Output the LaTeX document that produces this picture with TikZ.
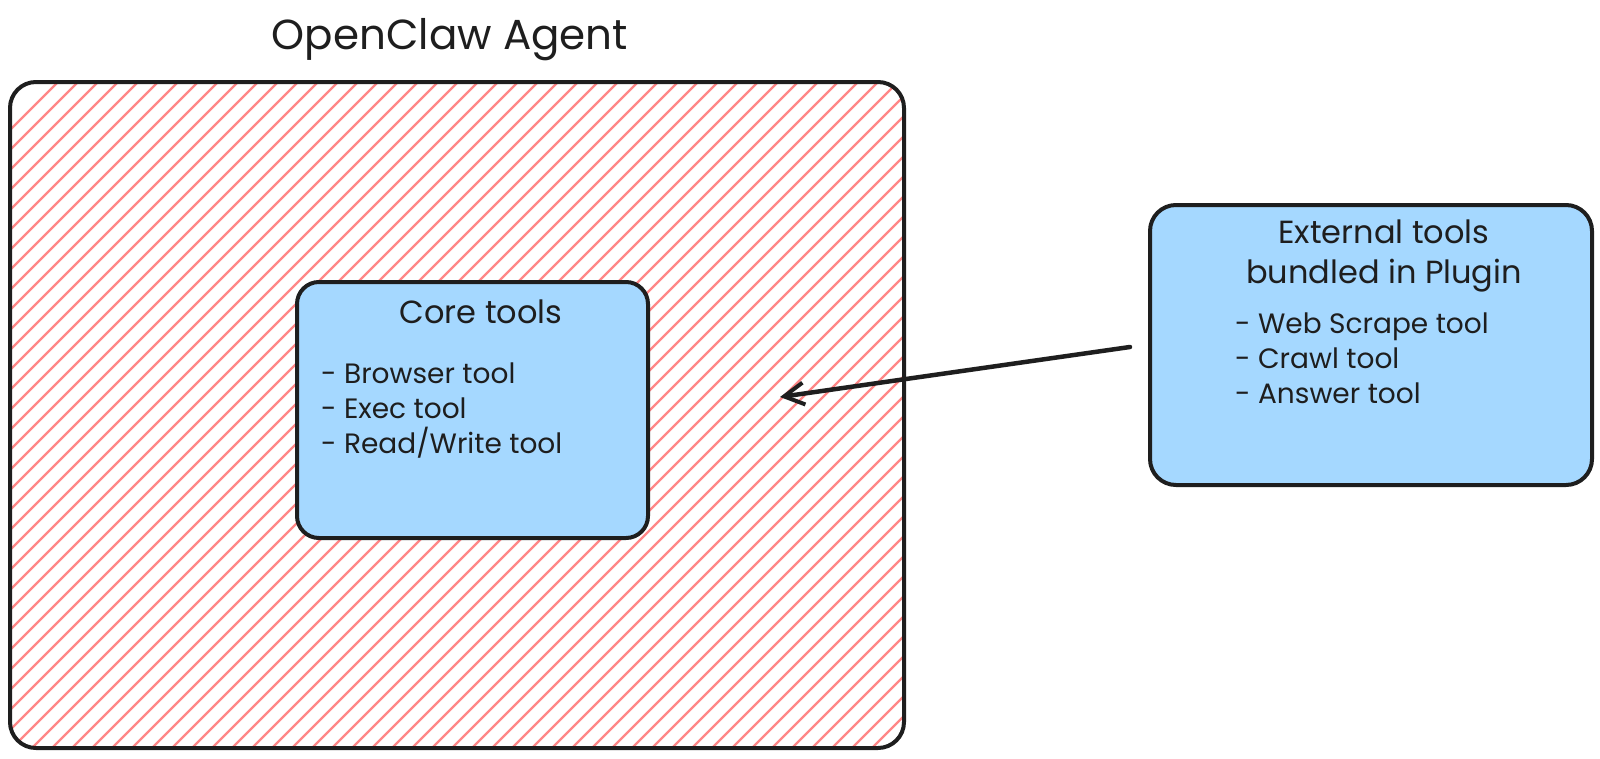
\documentclass[tikz,border=0pt]{standalone}
\usepackage{fontspec}
\setmainfont{Poppins}
\usetikzlibrary{arrows.meta}
\definecolor{ink}{HTML}{1E1E1E}
\definecolor{hatchred}{HTML}{FF8787}
\definecolor{boxblue}{HTML}{A5D8FF}
\begin{document}
\begin{tikzpicture}[x=1pt,y=-1pt,
  bluebox/.style={draw=ink, line width=4pt, rounded corners=22pt, fill=boxblue, inner sep=0pt},
  framebox/.style={draw=ink, line width=4pt, rounded corners=26pt, inner sep=0pt},
  hatchline/.style={draw=hatchred, line width=2.2pt},
  txt/.style={text=ink, inner sep=0pt, font=\fontsize{28}{34}\selectfont},
  headtxt/.style={text=ink, inner sep=0pt, font=\fontsize{32}{38}\selectfont},
  titletxt/.style={text=ink, inner sep=0pt, font=\fontsize{42}{48}\selectfont},
  arrowline/.style={draw=ink, line width=4.5pt, line cap=round, -{Straight Barb[length=20pt,width=22pt,line width=4pt]}}
]
\useasboundingbox (0,0) rectangle (1600,758);
% hatching of the agent frame
\begin{scope}
  \clip[rounded corners=26pt] (10,82) rectangle (904,748);
  \foreach \c in {80,100,...,1700} {
    \draw[hatchline] (\c,60) -- (\c-720,780);
  }
\end{scope}
\node[framebox, minimum width=894pt, minimum height=666pt] (agent) at (457,415) {};
\node[titletxt, anchor=base] (agenttitle) at (450,49) {OpenClaw Agent};

% core tools
\node[bluebox, minimum width=351pt, minimum height=256pt] (core) at (472.5,410) {};
\node[headtxt, anchor=base] (coretitle) at (481,323) {Core tools};
\node[txt, anchor=base west] (core1) at (321,383) {- Browser tool};
\node[txt, anchor=base west] (core2) at (321,418) {- Exec tool};
\node[txt, anchor=base west] (core3) at (321,453) {- Read/Write tool};

% external tools
\node[bluebox, rounded corners=26pt, minimum width=442pt, minimum height=280pt] (ext) at (1371,345) {};
\node[headtxt, anchor=base] (exttitle1) at (1384,243) {External tools};
\node[headtxt, anchor=base] (exttitle2) at (1384,283) {bundled in Plugin};
\node[txt, anchor=base west] (ext1) at (1235,333) {- Web Scrape tool};
\node[txt, anchor=base west] (ext2) at (1235,368) {- Crawl tool};
\node[txt, anchor=base west] (ext3) at (1235,403) {- Answer tool};

% arrow
\coordinate (tip) at (780,397);
\draw[arrowline] ([xshift=-18pt,yshift=-2pt]ext.west) -- (tip);
\end{tikzpicture}
\end{document}
